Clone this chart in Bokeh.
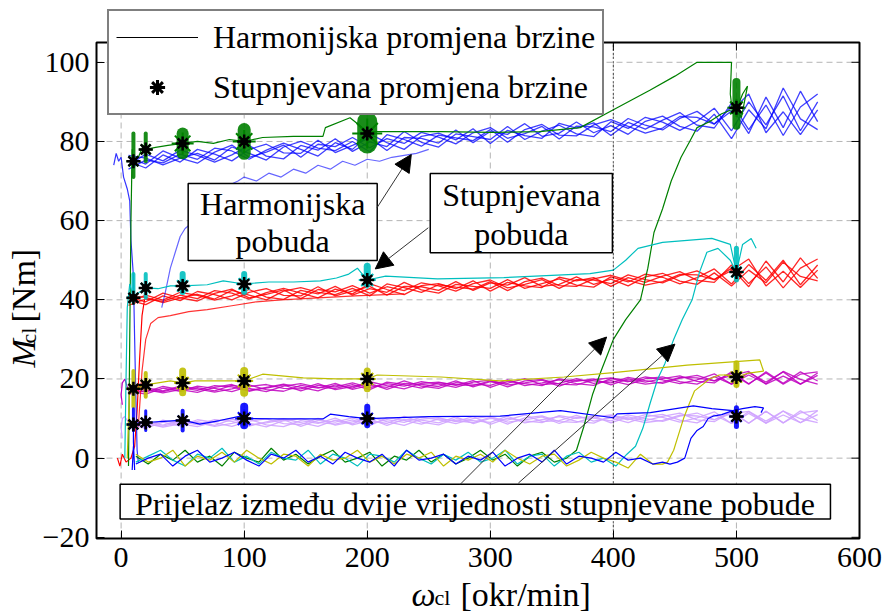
from bokeh.plotting import figure
from bokeh.models import (Range1d, Legend, LegendItem, Label, Arrow, NormalHead, ColumnDataSource)
from bokeh.core.properties import value
from bokeh.embed import file_html
from bokeh.resources import INLINE

# ---------------- data ----------------
X_TICKS = [0, 100, 200, 300, 400, 500, 600]
Y_TICKS = [-20, 0, 20, 40, 60, 80, 100]
XR = (-20, 600)
YR = (-20.3, 105)
TRANSITION_SPEED = 400

# harmonic speed change: common speed samples
HX = [6, 20, 34, 48, 62, 76, 90, 104, 118, 132, 146, 160, 174, 188, 202, 216, 230, 244, 258, 272,
      286, 300, 314, 328, 342, 356, 370, 384, 398, 412, 426, 440, 454, 468, 482, 496, 510, 524, 538, 552, 566]

BLUE_H1 = [76.0, 74.3, 77.6, 75.8, 74.5, 77.3, 79.1, 76.0, 77.3, 79.1, 76.0, 79.3, 78.7, 81.0, 78.4, 80.7, 79.5, 82.3, 81.1, 79.4,
           82.2, 83.5, 80.8, 82.0, 83.8, 80.6, 83.9, 83.7, 82.5, 85.8, 84.1, 82.9, 85.8, 87.6, 84.4, 88.7, 82.0, 91.2, 83.5, 92.7, 85.0]
BLUE_H2 = [74.0, 76.8, 75.1, 77.8, 76.5, 74.8, 76.6, 79.0, 76.3, 75.6, 79.0, 77.8, 80.7, 77.5, 79.9, 78.7, 82.5, 79.8, 78.6, 81.9,
           81.2, 80.5, 83.8, 80.5, 82.6, 84.1, 81.9, 81.2, 85.0, 83.3, 86.1, 84.9, 82.8, 85.1, 88.4, 82.7, 90.0, 84.2, 91.5, 82.7, 90.0]
BLUE_H3 = [75.0, 73.3, 76.6, 74.8, 78.0, 76.8, 75.1, 78.0, 79.3, 77.1, 77.0, 80.3, 77.2, 79.0, 80.9, 77.7, 81.0, 80.8, 79.6, 82.9,
           79.7, 82.5, 81.8, 84.5, 81.3, 82.1, 84.9, 82.2, 84.0, 81.8, 85.1, 86.4, 83.8, 82.6, 86.9, 80.7, 88.0, 83.2, 93.5, 85.7, 83.0]
BLUE_H4 = [73.0, 75.3, 74.6, 76.8, 75.5, 78.3, 77.6, 75.5, 77.8, 79.6, 78.0, 76.3, 79.7, 78.0, 81.9, 79.7, 78.0, 81.3, 82.1, 80.4,
           83.2, 79.5, 82.8, 81.5, 80.8, 84.6, 83.4, 84.7, 81.5, 84.8, 83.1, 85.4, 87.3, 84.1, 83.4, 89.7, 83.0, 89.2, 81.5, 88.7, 92.0]
BLUE_H5 = [76.5, 75.8, 74.1, 75.8, 77.0, 75.3, 78.6, 77.0, 75.3, 78.6, 80.0, 78.3, 77.7, 80.0, 77.4, 81.7, 80.5, 78.8, 81.6, 80.9,
           80.2, 83.0, 79.8, 83.0, 84.3, 81.6, 81.4, 84.2, 85.5, 83.8, 82.1, 83.4, 86.3, 86.1, 84.4, 87.7, 92.0, 82.2, 87.5, 81.7, 88.0]

RED_H1 = [40.0, 38.8, 41.0, 39.8, 42.1, 41.3, 40.0, 41.9, 42.8, 41.1, 41.0, 43.3, 41.0, 42.2, 43.4, 41.2, 43.4, 43.3, 42.4, 44.6,
          42.4, 44.3, 43.7, 45.6, 43.4, 43.9, 45.8, 43.9, 45.2, 43.5, 45.8, 46.7, 44.7, 43.9, 46.8, 43.5, 47.5, 44.3, 49.5, 45.9, 44.8]
RED_H2 = [40.7, 39.5, 41.7, 40.5, 39.7, 41.6, 42.7, 40.5, 41.4, 42.5, 40.3, 42.6, 42.0, 43.6, 41.7, 43.3, 42.3, 44.3, 43.5, 42.2,
          44.1, 45.0, 43.0, 43.9, 45.1, 42.9, 45.1, 45.0, 44.1, 46.3, 45.1, 44.3, 46.1, 47.3, 45.1, 48.0, 43.3, 49.8, 44.5, 50.6, 45.4]
RED_H3 = [39.3, 41.2, 39.9, 41.9, 41.1, 39.9, 41.0, 42.6, 40.7, 40.1, 42.4, 41.5, 43.4, 41.2, 42.8, 41.9, 44.4, 42.5, 41.7, 43.9,
          43.4, 42.9, 45.1, 42.9, 44.1, 45.3, 43.7, 43.2, 45.8, 44.5, 46.5, 45.7, 44.0, 45.6, 47.8, 44.0, 48.9, 44.9, 50.0, 43.8, 48.8]
RED_H4 = [38.6, 40.2, 39.6, 41.2, 40.3, 42.3, 41.7, 40.2, 41.8, 42.9, 41.7, 40.5, 42.7, 41.5, 44.1, 42.6, 41.3, 43.6, 44.1, 42.8,
          44.8, 42.2, 44.4, 43.5, 43.1, 45.7, 44.8, 45.6, 43.4, 45.6, 44.4, 46.0, 47.1, 44.9, 44.4, 48.8, 44.1, 48.3, 43.0, 48.0, 50.3]
RED_H5 = [41.0, 40.6, 39.3, 40.5, 41.4, 40.2, 42.4, 41.2, 40.0, 42.2, 43.1, 41.9, 41.3, 42.9, 41.0, 44.0, 43.1, 41.9, 43.8, 43.2,
          42.7, 44.6, 42.3, 44.6, 45.5, 43.6, 43.4, 45.3, 46.2, 44.9, 43.7, 44.6, 46.4, 46.3, 45.1, 47.4, 50.3, 43.5, 47.2, 43.1, 47.5]

MAG_H1 = [16.1, 17.1, 16.8, 17.8, 17.1, 18.3, 18.0, 16.9, 17.9, 18.7, 17.9, 17.0, 18.5, 17.7, 19.3, 18.3, 17.5, 18.9, 19.2, 18.4,
          19.6, 17.9, 19.4, 18.8, 18.3, 20.0, 19.4, 20.0, 18.5, 20.0, 19.2, 20.1, 20.8, 19.4, 19.0, 21.8, 18.8, 21.5, 18.7, 21.2, 21.8]
MAG_H2 = [17.7, 17.3, 16.5, 17.3, 17.8, 17.0, 18.4, 17.6, 16.8, 18.2, 18.8, 17.9, 17.6, 18.6, 17.3, 19.2, 18.6, 17.7, 19.0, 18.6,
          18.3, 19.5, 18.0, 19.5, 19.9, 18.7, 18.5, 19.8, 20.3, 19.5, 18.7, 19.2, 20.4, 20.3, 19.5, 20.9, 21.9, 18.7, 20.7, 18.7, 20.9]
MAG_H3 = [17.5, 16.7, 18.1, 17.3, 16.6, 17.9, 18.6, 17.2, 17.7, 18.5, 17.0, 18.4, 18.0, 19.0, 17.8, 18.8, 18.2, 19.3, 18.7, 17.9,
          19.2, 19.7, 18.5, 19.0, 19.7, 18.2, 19.7, 19.5, 19.0, 20.4, 19.6, 18.9, 20.2, 20.9, 19.5, 21.4, 18.7, 21.8, 18.9, 21.8, 19.5]
MAG_H4 = [16.6, 17.8, 17.0, 18.2, 17.5, 16.7, 17.5, 18.5, 17.3, 16.9, 18.4, 17.7, 18.9, 17.4, 18.4, 17.9, 19.5, 18.2, 17.6, 19.1,
          18.7, 18.4, 19.8, 18.3, 19.0, 19.8, 18.8, 18.4, 20.1, 19.3, 20.5, 19.8, 18.8, 19.8, 21.3, 18.7, 21.6, 19.2, 21.8, 18.7, 21.5]
MAG_H5 = [17.0, 16.2, 17.7, 16.9, 18.2, 17.6, 16.8, 18.1, 18.6, 17.6, 17.5, 18.8, 17.3, 18.1, 18.9, 17.4, 18.9, 18.6, 18.1, 19.5,
          18.0, 19.3, 18.9, 20.1, 18.6, 18.9, 20.1, 18.9, 19.6, 18.6, 20.1, 20.5, 19.3, 18.7, 20.6, 18.7, 21.0, 18.8, 21.9, 19.9, 18.7]

LAV_H1 = [8.0, 9.3, 8.35, 9.65, 8.95, 8.0, 8.8, 9.85, 8.4, 7.95, 9.5, 8.8, 10.1, 8.4, 9.45, 8.75, 10.55, 9.1, 8.4, 9.95,
          9.5, 9.05, 10.6, 8.9, 9.7, 10.5, 9.3, 8.85, 10.65, 9.7, 11.0, 10.3, 9.1, 10.15, 11.7, 8.75, 11.8, 9.35, 11.9, 8.95, 12.0]
LAV_H2 = [7.5, 8.55, 8.1, 9.15, 8.45, 9.75, 9.3, 8.1, 9.15, 9.95, 9.0, 8.05, 9.6, 8.65, 10.45, 9.25, 8.3, 9.85, 10.15, 9.2,
          10.5, 8.55, 10.1, 9.4, 8.95, 10.75, 10.05, 10.6, 8.9, 10.45, 9.5, 10.55, 11.35, 9.65, 9.2, 11.75, 8.8, 11.85, 8.9, 11.45, 12.0]
LAV_H3 = [9.25, 8.8, 7.85, 8.65, 9.2, 8.25, 9.8, 8.85, 7.9, 9.45, 10.0, 9.05, 8.6, 9.65, 8.2, 10.25, 9.55, 8.6, 9.9, 9.45,
          9.0, 10.3, 8.6, 10.15, 10.7, 9.25, 9.05, 10.35, 10.9, 9.95, 9.0, 9.55, 10.85, 10.65, 9.7, 11.25, 11.8, 8.85, 10.9, 8.95, 11.0]
LAV_H4 = [9.0, 8.05, 9.6, 8.65, 7.95, 9.25, 10.05, 8.35, 8.9, 9.7, 8.0, 9.55, 9.1, 10.15, 8.7, 9.75, 9.05, 10.35, 9.65, 8.7,
          10.0, 10.55, 9.1, 9.65, 10.45, 8.75, 10.3, 10.1, 9.4, 10.95, 10.0, 9.3, 10.6, 11.4, 9.7, 11.75, 8.8, 11.85, 8.9, 11.95, 9.5]
LAV_H5 = [8.5, 7.55, 9.1, 8.15, 9.7, 9.0, 8.05, 9.35, 9.9, 8.7, 8.5, 10.05, 8.35, 9.15, 9.95, 8.25, 9.8, 9.6, 8.9, 10.45,
          8.75, 10.05, 9.6, 10.9, 9.2, 9.5, 10.8, 9.35, 10.15, 8.95, 10.5, 11.05, 9.6, 8.9, 10.95, 8.75, 11.3, 8.85, 11.9, 9.95, 9.0]

# start-up transients of the harmonic runs
BLUE_START_X = [-6, -4, -2, 0, 2, 5, 7, 8, 10, 11, 12, 13, 14]
BLUE_START_Y = [74, 77, 75, 76, 71, 68, 65, 55, 46, 30, 15, 2, -1]
BLUE_RISE_X = [33, 36, 40, 44, 48, 52, 56, 60, 70, 80, 88, 95, 100, 110, 120, 130, 140, 150, 160, 170, 180, 190, 200, 210, 220, 230, 240, 250]
BLUE_RISE_Y = [38, 42, 48, 52, 56, 58, 59, 62, 64, 66, 69, 70, 71, 70, 72, 71, 73, 72, 74, 73, 75, 74, 75.5, 75, 76, 76.5, 77, 78]
RED_START_X = [-3, -1, 1, 4, 8, 11, 13, 15, 17, 19]
RED_START_Y = [0, -2, 1, -1, 0, 3, 12, 25, 36, 40]
RED_LOW_X = [14, 17, 20, 24, 30, 40, 55, 70, 90, 110, 130, 160, 190, 230]
RED_LOW_Y = [8, 22, 30, 34, 35.5, 36, 37, 37.5, 38.5, 39.5, 40, 40.5, 41, 41.5]
MAG_START_X = [1, 0, 1, 3, 6]
MAG_START_Y = [13.5, 16, 19, 20, 17]
LAV_START_X = [1, 0, 1, 3, 6]
LAV_START_Y = [5, 7.5, 10, 10.5, 9]

# stepped speed change: zero-level runs
GREEN_ZERO_X = [12, 22, 32, 42, 52, 62, 72, 82, 92, 102, 112, 122, 132, 142, 152, 162, 172, 182, 192, 202,
                212, 222, 232, 242, 252, 262, 272, 282, 292, 302, 312, 322, 332, 342, 352, 362,
                370, 376, 383, 390, 395, 400, 410, 422, 428, 433, 440, 447, 455, 462, 468, 478, 488, 496]
GREEN_ZERO_Y = [0.5, -1.5, 1, -0.5, 2, -1, 0.5, -2, 1.5, 0, -1, 2.5, -0.5, 1, -1.5, 0.5, 2, -1, 0, 1.5,
                -2, 0.5, -0.5, 2, -1, 1, -1.5, 0, 2, -0.5, 1, -2, 0.5, 1.5, -1, 0,
                2, 8, 16, 22, 26, 30, 35, 40, 48, 57, 63, 70, 76, 80, 83.5, 85, 87, 88]
CYAN_ZERO_X = [12, 22, 32, 42, 52, 62, 72, 82, 92, 102, 112, 122, 132, 142, 152, 162, 172, 182, 192, 202,
               212, 222, 232, 242, 252, 262, 272, 282, 292, 302, 312, 322, 332, 342, 352, 362, 372, 382, 392, 402,
               411, 418, 424, 430, 436, 442, 449, 456, 464, 470, 476, 485, 495, 500]
CYAN_ZERO_Y = [-1, 0.5, 2, -0.5, -2, 1, 0, 2.5, -1, 0.5, -1.5, 1.5, 0, -0.5, 2, -1.5, 1, 0, -2, 1,
               0.5, -1, 2, 0, -1.5, 1, -0.5, 1.5, -1, 0, 2, -1.5, 0.5, 1, -2, 0.5, 1.5, -1, 0, -2,
               1, 3, 7.6, 14, 20, 24, 30, 35, 40, 47, 52, 53, 50, 47]
YELLOW_ZERO_X = [12, 22, 32, 42, 52, 62, 72, 82, 92, 102, 112, 122, 132, 142, 152, 162, 172, 182, 192, 202,
                 212, 222, 232, 242, 252, 262, 272, 282, 292, 302, 312, 322, 332, 342, 352, 362, 372, 382, 392, 402,
                 412, 422, 432, 440, 444, 449, 453, 457, 462, 466, 473, 478, 486, 494, 500]
YELLOW_ZERO_Y = [1, -1, 0, 2, -2, 0.5, -0.5, 1.5, -1, 2, 0, -1.5, 1, 0.5, -2, 1, -0.5, 0, 2, -1,
                 0.5, -1.5, 1, 0, 1.5, -2, 0.5, -0.5, 1, -1, 2, 0, -1.5, 0.5, 1, -2, -0.5, 1.5, 0, -1,
                 -2.5, 1, -1.5, -1.5, -1, 2, 6, 10, 14, 17, 18.7, 20, 21, 21, 20.5]
BLUE_ZERO_X = [12, 22, 32, 42, 52, 62, 72, 82, 92, 102, 112, 122, 132, 142, 152, 162, 172, 182, 192, 202,
               212, 222, 232, 242, 252, 262, 272, 282, 292, 302, 312, 322, 332, 342, 352, 362, 372, 382, 392, 402,
               412, 422, 432, 440, 446, 452, 458, 463, 468, 473, 477, 481, 488, 497, 500]
BLUE_ZERO_Y = [-1.5, 0, 1, -2, 0.5, 2, -1, 0, 1.5, -0.5, -2, 1, 0, 2, -1, 0.5, -1.5, 1.5, 0, -1,
               1, -2, 2, -0.5, 0, 1, -1.5, 0.5, -0.5, 1.5, -2, 0, 1, -1, 2, -1.5, 0.5, 0, -1, 1.5,
               -0.5, 0, -1.5, -1, -1.5, -1, 0, 5, 7, 8, 10, 10.6, 11, 12, 11]

# stepped speed change: level runs
GREEN_LEVEL_X = [6, 7, 8, 9, 10, 14, 18, 20, 28, 38, 50, 62, 75, 88, 100, 115, 140, 164, 166, 186, 200, 220, 260,
                 300, 340, 373, 400, 430, 450, 468, 496, 495, 497, 500, 505, 509, 504, 500]
GREEN_LEVEL_Y = [-2, 30, 60, 78, 75, 76, 79, 78, 78.5, 79, 79.5, 80, 79.5, 80.5, 80, 81, 81.3, 81.3, 83.5, 86, 82.5, 82.5, 82.5,
                 82.3, 82.5, 83.5, 88, 93, 96.5, 100, 100, 92, 87, 88, 92, 94, 86, 89]
CYAN_LEVEL_X = [3, 4, 5, 7, 10, 15, 20, 30, 40, 50, 70, 83, 100, 120, 140, 162, 175, 185, 192, 200, 215, 257, 311, 381,
                400, 410, 420, 440, 460, 480, 495, 500, 505, 512, 516]
CYAN_LEVEL_Y = [0, 20, 38, 44, 40.5, 42, 43, 42.8, 43.5, 43.5, 43.8, 44.8, 44, 44.5, 44.5, 44.8, 45.5, 46.5, 48, 45, 46, 45.3, 45.6, 46.6,
                47.5, 50, 53, 54.5, 55, 55.5, 54, 47, 54, 55.5, 53]
YELLOW_LEVEL_X = [5, 6, 7, 10, 15, 20, 30, 40, 50, 60, 80, 100, 115, 148, 175, 200, 208, 260, 308, 360, 400, 460,
                  519, 522, 510, 500, 490]
YELLOW_LEVEL_Y = [0, 10, 18, 17.5, 18, 18.5, 19, 19.5, 19, 19.5, 19.5, 19.5, 21.2, 20.3, 20, 20, 21, 20.5, 19.5, 20.5, 21.6, 23.5,
                  24.8, 22, 21.5, 20.5, 21]
BLUE_LEVEL_X = [9, 10, 11, 10, 10, 15, 20, 35, 50, 64, 80, 97, 100, 127, 164, 170, 185, 200, 250, 308, 357, 400, 403,
                430, 465, 480, 497, 505, 515, 522, 520]
BLUE_LEVEL_Y = [-3, 3, -3, 4, 8.5, 9, 9, 9.3, 9.6, 8.6, 9.5, 10.6, 10, 9.9, 9.9, 11.1, 10.5, 10, 10.5, 10.6, 12, 10.2, 11.2,
                11.5, 13.2, 12.5, 12, 12.5, 13, 12.7, 11.5]

# measured points (stepped change) and their scatter
STEP_SPEEDS = [10, 20, 50, 100, 200, 500]
STAR_GREEN = [75, 78, 79.5, 80, 82, 88.5]
STAR_CYAN = [40.5, 43, 43.5, 44, 45, 47]
STAR_YELLOW = [17.5, 18.5, 19, 19.5, 20, 20.5]
STAR_BLUE = [8.5, 9, 9.5, 10, 10, 10.5]
GREEN_LO = [71, 75, 77, 77, 79.5, 84]
GREEN_HI = [82, 82, 82, 83, 85, 95]
CYAN_LO = [39.5, 40.5, 42, 42, 44, 45]
CYAN_HI = [46.5, 46.5, 46.5, 46.5, 48.5, 53]
YELLOW_LO = [13, 15.5, 16.5, 16.5, 17.5, 18.5]
YELLOW_HI = [22, 21.5, 22, 22, 22, 24]
BLUE_LO = [7, 7, 7, 8.3, 8.3, 8]
BLUE_HI = [12.5, 12, 12, 13, 13, 12.7]

LEGEND_LABELS = ["Harmonijska promjena brzine", "Stupnjevana promjena brzine"]
BOX_TEXTS = ["Harmonijska", "pobuda", "Stupnjevana", "pobuda",
             "Prijelaz između dvije vrijednosti stupnjevane pobude"]

# ---------------- styles / layout ----------------
C_BLUE = "#0000ff"
C_RED = "#ff0000"
C_MAG = "#c000c0"
C_LAV = "#cfa3ff"
C_GREEN = "#008000"
C_CYAN = "#00bfbf"
C_YELLOW = "#bfbf00"
FONT = "Liberation Serif"

W, H = 883, 612
# pixel box of the axes inside the canvas
PX_L, PX_R, PX_T, PX_B = 96, 859, 42, 538
TICK_PX = 8
sx = (PX_R - PX_L) / (XR[1] - XR[0])
sy = (PX_B - PX_T) / (YR[1] - YR[0])
x_lo = XR[0] - PX_L / sx
x_hi = XR[1] + (W - PX_R) / sx
y_hi = YR[1] + PX_T / sy
y_lo = YR[0] - (H - PX_B) / sy

p = figure(width=W, height=H, x_range=Range1d(x_lo, x_hi), y_range=Range1d(y_lo, y_hi),
           output_backend="svg", toolbar_location=None,
           min_border_left=0, min_border_right=0, min_border_top=0, min_border_bottom=0,
           background_fill_color="white", border_fill_color="white")
p.outline_line_color = None
p.xgrid.visible = False
p.ygrid.visible = False

xax = p.xaxis[0]
yax = p.yaxis[0]
xax.fixed_location = YR[0]
yax.fixed_location = XR[0]
xax.ticker = X_TICKS
yax.ticker = Y_TICKS
for ax in (xax, yax):
    ax.axis_line_color = None
    ax.major_tick_in = TICK_PX
    ax.major_tick_out = 0
    ax.minor_tick_line_color = None
    ax.major_tick_line_color = "black"
    ax.major_label_text_font = FONT
    ax.major_label_text_font_size = "30px"
    ax.major_label_text_color = "black"
xax.major_label_standoff = 9
yax.major_label_standoff = 7

# dashed grid inside the axes box
gx = [t for t in X_TICKS if XR[0] + 1 < t < XR[1] - 1]
gy = [t for t in Y_TICKS if YR[0] + 1 < t < YR[1] - 1]
p.segment(x0=gx, y0=[YR[0]] * len(gx), x1=gx, y1=[YR[1]] * len(gx),
          line_color="#b4b4b4", line_dash="6 4", line_width=1)
p.segment(x0=[XR[0]] * len(gy), y0=gy, x1=[XR[1]] * len(gy), y1=gy,
          line_color="#b4b4b4", line_dash="6 4", line_width=1)

# harmonic bands
for ys in (LAV_H1, LAV_H2, LAV_H3, LAV_H4, LAV_H5):
    p.line(HX, ys, line_color=C_LAV, line_width=1.3, line_alpha=0.9)
p.line(LAV_START_X, LAV_START_Y, line_color=C_LAV, line_width=1.2)
for ys in (MAG_H1, MAG_H2, MAG_H3, MAG_H4, MAG_H5):
    p.line(HX, ys, line_color=C_MAG, line_width=1.3, line_alpha=0.85)
p.line(MAG_START_X, MAG_START_Y, line_color=C_MAG, line_width=1.2)
for ys in (RED_H1, RED_H2, RED_H3, RED_H4, RED_H5):
    p.line(HX, ys, line_color=C_RED, line_width=1.3, line_alpha=0.85)
p.line(RED_START_X, RED_START_Y, line_color=C_RED, line_width=1.2)
p.line(RED_LOW_X, RED_LOW_Y, line_color=C_RED, line_width=1.2, line_alpha=0.8)
for ys in (BLUE_H1, BLUE_H2, BLUE_H3, BLUE_H4, BLUE_H5):
    p.line(HX, ys, line_color=C_BLUE, line_width=1.3, line_alpha=0.75)
p.line(BLUE_START_X, BLUE_START_Y, line_color=C_BLUE, line_width=1.2, line_alpha=0.8)
p.line(BLUE_RISE_X, BLUE_RISE_Y, line_color=C_BLUE, line_width=1.2, line_alpha=0.6)

# stepped runs
for xs, ys, c in ((GREEN_ZERO_X, GREEN_ZERO_Y, C_GREEN), (CYAN_ZERO_X, CYAN_ZERO_Y, C_CYAN),
                  (YELLOW_ZERO_X, YELLOW_ZERO_Y, C_YELLOW), (BLUE_ZERO_X, BLUE_ZERO_Y, C_BLUE),
                  (GREEN_LEVEL_X, GREEN_LEVEL_Y, C_GREEN), (CYAN_LEVEL_X, CYAN_LEVEL_Y, C_CYAN),
                  (YELLOW_LEVEL_X, YELLOW_LEVEL_Y, C_YELLOW), (BLUE_LEVEL_X, BLUE_LEVEL_Y, C_BLUE)):
    p.line(xs, ys, line_color=c, line_width=1.2)

# scatter around measured points
cluster_widths = {C_GREEN: [4, 4, 12, 13, 20, 8], C_CYAN: [4, 4, 6, 6, 7, 5],
                  C_YELLOW: [4, 4, 7, 8, 7, 6], C_BLUE: [3, 3, 4, 8, 6, 5]}
for lo, hi, ctr, c in ((GREEN_LO, GREEN_HI, STAR_GREEN, C_GREEN), (CYAN_LO, CYAN_HI, STAR_CYAN, C_CYAN),
                       (YELLOW_LO, YELLOW_HI, STAR_YELLOW, C_YELLOW), (BLUE_LO, BLUE_HI, STAR_BLUE, C_BLUE)):
    src = ColumnDataSource(dict(x=STEP_SPEEDS, y0=lo, y1=hi, yc=ctr, w=cluster_widths[c],
                                s=[w + 10 for w in cluster_widths[c]]))
    p.segment(x0="x", y0="y0", x1="x", y1="y1", line_width="w", line_color=c, source=src,
              line_alpha=0.9, line_cap="round")
    p.scatter(x="x", y="yc", size="s", marker="asterisk", line_color=c, line_width=2, source=src)

for ctr in (STAR_GREEN, STAR_CYAN, STAR_YELLOW, STAR_BLUE):
    p.scatter(STEP_SPEEDS, ctr, marker="asterisk", size=14, line_color="black", line_width=2.5)
    p.scatter(STEP_SPEEDS, ctr, marker="circle", size=7, fill_color="black", line_color="black")

# dotted marker of the transition speed
p.segment(x0=[TRANSITION_SPEED], y0=[YR[0]], x1=[TRANSITION_SPEED], y1=[YR[1]],
          line_color="black", line_dash="1 3", line_width=1.2)

# axes box with inward ticks on top and right
p.quad(left=[XR[0]], right=[XR[1]], bottom=[YR[0]], top=[YR[1]], fill_color=None,
       line_color="black", line_width=2)
tx = TICK_PX / sx
ty = TICK_PX / sy
p.segment(x0=X_TICKS, y0=[YR[1]] * len(X_TICKS), x1=X_TICKS, y1=[YR[1] - ty] * len(X_TICKS),
          line_color="black", line_width=1)
p.segment(x0=[XR[1]] * len(Y_TICKS), y0=Y_TICKS, x1=[XR[1] - tx] * len(Y_TICKS), y1=Y_TICKS,
          line_color="black", line_width=1)

# annotation boxes and texts
p.quad(left=[54.5, 251.2, -0.8], right=[208.1, 399.2, 576.4], top=[69.4, 71.9, -6.6], bottom=[49.9, 51.9, -15.4],
       fill_color="white", line_color="black", line_width=1.5)
p.text(x=[131.3, 131.3, 325.2, 325.2, 287.5], y=[64.3, 54.9, 66.6, 56.6, -11.5],
       text=BOX_TEXTS, text_font=value(FONT), text_font_size="32px", text_align="center",
       text_baseline="alphabetic", text_color="black")

for xs0, ys0, xe, ye in ((208.0, 63.3, 235.8, 76.7), (249.6, 58.2, 206.5, 47.8),
                         (275.6, -6.6, 394.5, 30.6), (322.8, -6.3, 450.0, 28.8)):
    p.add_layout(Arrow(end=NormalHead(size=17, fill_color="black", line_color="black"),
                       x_start=xs0, y_start=ys0, x_end=xe, y_end=ye,
                       line_color="#333333", line_width=1))

# legend (glyph-only renderers, no visible data)
nan = float("nan")
leg_line = p.line([nan], [nan], line_color="black", line_width=1)
leg_star = p.scatter([nan], [nan], marker="asterisk", size=14, line_color="black", line_width=3)
legend = Legend(items=[LegendItem(label=LEGEND_LABELS[0], renderers=[leg_line]),
                       LegendItem(label=LEGEND_LABELS[1], renderers=[leg_star])],
                location=(107, H - 115), label_text_font=FONT, label_text_font_size="32px",
                label_text_color="black", glyph_width=82, glyph_height=38, label_height=38,
                label_standoff=15, spacing=12, padding=7, border_line_color="black",
                border_line_width=2, background_fill_color="white", background_fill_alpha=1)
p.add_layout(legend, "center")

# axis titles (screen units from the canvas bottom-left)
def lab(x, y, text, size, style="normal", angle=0.0):
    p.add_layout(Label(x=x, y=y, x_units="screen", y_units="screen", text=text, text_font=FONT,
                       text_font_style=style, text_font_size=size, text_baseline="alphabetic",
                       angle=angle, text_color="black"))

lab(411, 18, "ω", "34px", "italic")
lab(434, 15, "cl", "22px")
lab(460, 18, "[okr/min]", "34px")
lab(23, 245, "M", "34px", "italic", 1.5708)
lab(28, 269, "cl", "22px", "normal", 1.5708)
lab(23, 290, "[Nm]", "34px", "normal", 1.5708)

open("out.html", "w").write(file_html(p, INLINE))
